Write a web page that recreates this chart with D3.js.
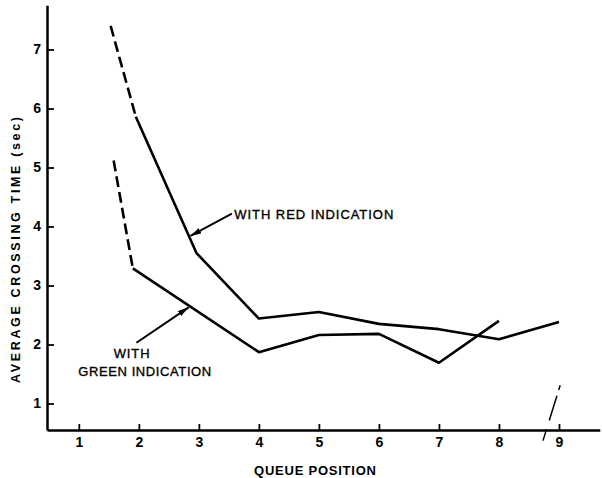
<!DOCTYPE html>
<html>
<head>
<meta charset="utf-8">
<script src="https://cdn.jsdelivr.net/npm/d3@7"></script>
<style>
  body { margin: 0; background: #fff; }
  text { font-family: "Liberation Sans", Arial, sans-serif; fill: #000; }
</style>
</head>
<body>
<div id="chart"></div>
<script>
// tick values
const positions = [1, 2, 3, 4, 5, 6, 7, 8, 9];
const timeTicks = [1, 2, 3, 4, 5, 6, 7];

// with red indication (solid part + dashed lead-in)
const redX = [1.95, 2.96, 4, 5, 6, 7, 8, 9];
const redY = [5.86, 3.55, 2.44, 2.55, 2.35, 2.26, 2.09, 2.38];
const redDashX = [1.53, 1.95];
const redDashY = [7.40, 5.86];

// with green indication
const greenX = [1.9, 4, 5, 6, 7, 8];
const greenY = [3.29, 1.87, 2.16, 2.18, 1.69, 2.40];
const greenDashX = [1.58, 1.9];
const greenDashY = [5.12, 3.29];

// axis break mark near 9
const breakX = [9.02, 8.70];
const breakY = [1.31, 0.26];

const width = 602, height = 478;

const svg = d3.select("#chart")
  .append("svg")
    .attr("width", width)
    .attr("height", height);

// scales (extended domains so the axis lines run past the ticks)
const x = d3.scaleLinear().domain([0.47, 9.68]).range([47, 599.8]);
const y = d3.scaleLinear().domain([0.55, 7.75]).range([430.05, 5.25]);

// arrow head
svg.append("defs").append("marker")
    .attr("id", "head")
    .attr("viewBox", "0 0 11 6")
    .attr("refX", 11).attr("refY", 3)
    .attr("markerWidth", 11).attr("markerHeight", 6)
    .attr("markerUnits", "userSpaceOnUse")
    .attr("orient", "auto")
  .append("path")
    .attr("d", "M0,0 L11,3 L0,6 Z")
    .attr("fill", "#000");

// axes
const xAxis = svg.append("g")
  .attr("transform", `translate(0,${y(0.55)})`)
  .call(d3.axisBottom(x).tickValues(positions).tickSizeInner(-6).tickSizeOuter(0).tickPadding(7));

const yAxis = svg.append("g")
  .attr("transform", `translate(${x(0.47)},0)`)
  .call(d3.axisLeft(y).tickValues(timeTicks).tickSizeInner(-7).tickSizeOuter(0).tickPadding(6));

[xAxis, yAxis].forEach(g => {
  g.select(".domain").attr("stroke", "#000").attr("stroke-width", 2.5);
  g.selectAll(".tick line").attr("stroke", "#000").attr("stroke-width", 1.8);
  g.selectAll(".tick text")
    .style("font-family", "'Liberation Sans', Arial, sans-serif")
    .style("font-size", "14px")
    .style("font-weight", "bold")
    .attr("fill", "#000");
});

// axis titles
svg.append("text")
  .attr("x", 254).attr("y", 475)
  .attr("textLength", 122).attr("lengthAdjust", "spacing")
  .style("font-size", "13px").style("font-weight", "bold")
  .text("QUEUE POSITION");

svg.append("text")
  .attr("transform", "translate(19.5,383) rotate(-90)")
  .attr("textLength", 266).attr("lengthAdjust", "spacing")
  .style("font-size", "12.5px").style("font-weight", "bold")
  .text("AVERAGE CROSSING TIME (sec)");

// lines
const line = d3.line().x(d => x(d[0])).y(d => y(d[1]));

function drawLine(xs, ys, dashed) {
  svg.append("path")
    .datum(xs.map((v, i) => [v, ys[i]]))
    .attr("d", line)
    .attr("fill", "none")
    .attr("stroke", "#000")
    .attr("stroke-width", 2.6)
    .attr("stroke-linejoin", "round")
    .attr("stroke-dasharray", dashed ? "11,5" : null);
}

drawLine(redDashX, redDashY, true);
drawLine(redX, redY, false);
drawLine(greenDashX, greenDashY, true);
drawLine(greenX, greenY, false);

// axis break
svg.append("path")
  .datum(breakX.map((v, i) => [v, breakY[i]]))
  .attr("d", line)
  .attr("stroke", "#000")
  .attr("stroke-width", 1.5)
  .attr("stroke-dasharray", "5,6,26,9,12,20");

// annotations
const labels = [
  { text: "WITH RED INDICATION", x: 3.59, y: 4.13, len: 159, anchor: "start" },
  { text: "WITH", x: 1.88, y: 1.77, len: 36, anchor: "middle" },
  { text: "GREEN INDICATION", x: 0.99, y: 1.47, len: 133, anchor: "start" }
];

svg.selectAll(".label")
  .data(labels)
  .join("text")
    .attr("class", "label")
    .attr("x", d => x(d.x))
    .attr("y", d => y(d.y))
    .attr("text-anchor", d => d.anchor)
    .attr("textLength", d => d.len)
    .attr("lengthAdjust", "spacing")
    .attr("stroke", "#000")
    .attr("stroke-width", 0.35)
    .style("font-size", "13px")
    .text(d => d.text);

const arrows = [
  { x1: 3.55, y1: 4.22, x2: 2.86, y2: 3.84 },
  { x1: 1.96, y1: 2.03, x2: 2.83, y2: 2.63 }
];

svg.selectAll(".arrow")
  .data(arrows)
  .join("line")
    .attr("class", "arrow")
    .attr("x1", d => x(d.x1)).attr("y1", d => y(d.y1))
    .attr("x2", d => x(d.x2)).attr("y2", d => y(d.y2))
    .attr("stroke", "#000")
    .attr("stroke-width", 2)
    .attr("marker-end", "url(#head)");
</script>
</body>
</html>
